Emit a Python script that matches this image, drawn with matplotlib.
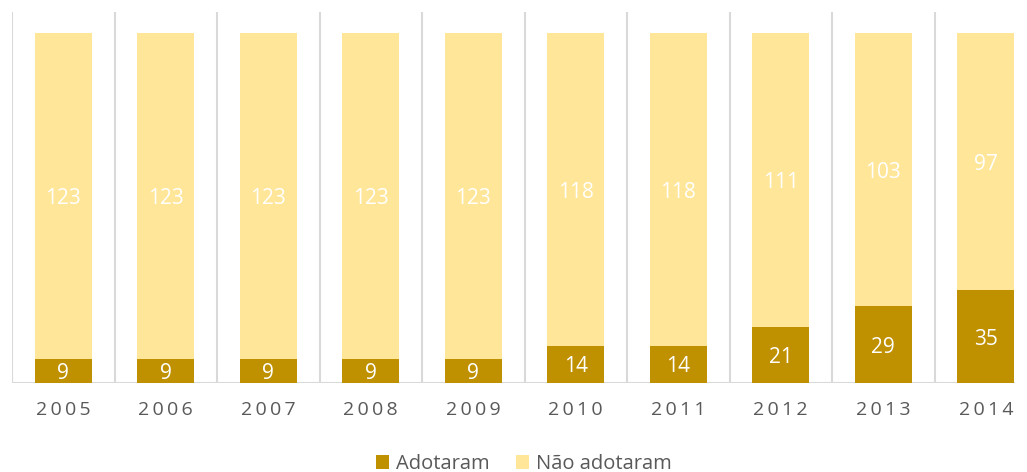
import matplotlib
matplotlib.use("Agg")
import matplotlib.pyplot as plt
import numpy as np

plt.rcParams['font.family'] = ['Open Sans', 'DejaVu Sans']

# dados
anos = ['2005', '2006', '2007', '2008', '2009', '2010', '2011', '2012', '2013', '2014']
adotaram = [9, 9, 9, 9, 9, 14, 14, 21, 29, 35]
nao_adotaram = [123, 123, 123, 123, 123, 118, 118, 111, 103, 97]

COR_ESCURA = '#BF9000'
COR_CLARA = '#FFE699'
COR_GRADE = '#D9D9D9'
COR_TEXTO = '#595959'

fig = plt.figure(figsize=(10.27, 4.72), dpi=100)
ax = fig.add_axes([12 / 1027, 89 / 472, 1003 / 1027, 371 / 472])

x = np.arange(len(anos))
largura = 0.555
b1 = ax.bar(x, adotaram, largura, color=COR_ESCURA, label='Adotaram', zorder=3)
b2 = ax.bar(x, nao_adotaram, largura, bottom=adotaram, color=COR_CLARA,
            label='Não adotaram', zorder=3)

for i in range(len(anos)):
    ax.text(x[i], adotaram[i] / 2, str(adotaram[i]), ha='center', va='center_baseline',
            color='white', fontsize=15, zorder=4)
    ax.text(x[i], adotaram[i] + nao_adotaram[i] / 2, str(nao_adotaram[i]),
            ha='center', va='center_baseline', color='white', fontsize=15, zorder=4)

# linhas verticais entre categorias
for g in np.arange(-0.5, len(anos), 1.0):
    ax.axvline(g, color=COR_GRADE, lw=1.5, zorder=1)
ax.axhline(0, color=COR_GRADE, lw=1.5, zorder=2)

ax.set_xlim(-0.5, 9.285)
ax.set_ylim(0, 140)
ax.set_yticks([])
ax.set_xticks(x)
ax.set_xticklabels(['\u2009'.join(a) for a in anos], color=COR_TEXTO, fontsize=14)
ax.tick_params(axis='x', length=0, pad=13)
for s in ax.spines.values():
    s.set_visible(False)

leg = fig.legend(handles=[b1, b2], loc='center', bbox_to_anchor=(0.51, 8 / 472),
                 ncol=2, frameon=False, fontsize=14.5, handlelength=0.66, handleheight=0.66,
                 handletextpad=0.35, columnspacing=1.3, borderaxespad=0, borderpad=0)
for t in leg.get_texts():
    t.set_color(COR_TEXTO)

fig.savefig('out.png', dpi=100)
